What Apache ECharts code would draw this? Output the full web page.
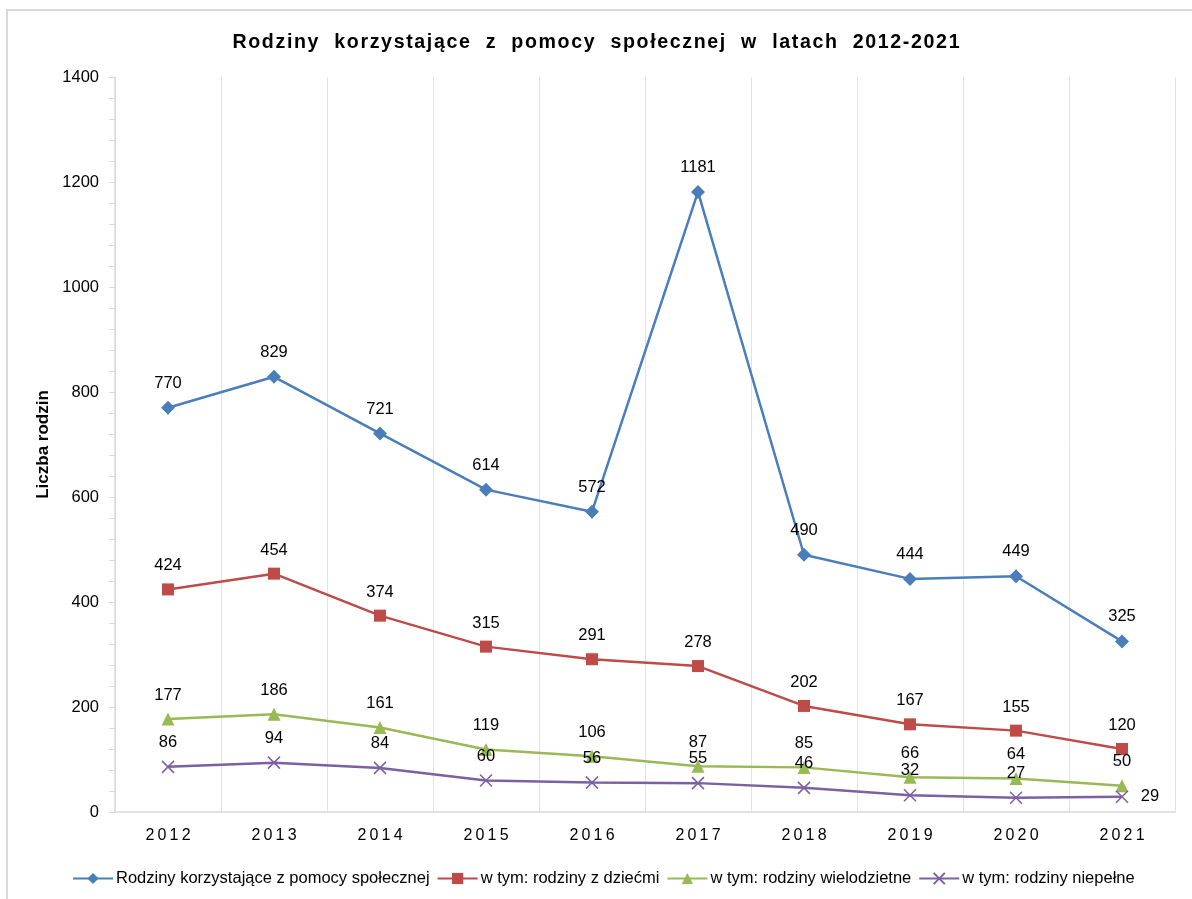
<!DOCTYPE html>
<html>
<head>
<meta charset="utf-8">
<script src="https://cdn.jsdelivr.net/npm/echarts@6/dist/echarts.min.js"></script>
<style>
  html, body { margin: 0; padding: 0; background: #fff; }
  #chart { width: 1192px; height: 899px; }
</style>
</head>
<body>
<div id="chart"></div>
<script>
const years = ['2012', '2013', '2014', '2015', '2016', '2017', '2018', '2019', '2020', '2021']
const seriesNames = [
  'Rodziny korzystające z pomocy społecznej',
  'w tym: rodziny z dziećmi',
  'w tym: rodziny wielodzietne',
  'w tym: rodziny niepełne'
]
const allFamilies = [770, 829, 721, 614, 572, 1181, 490, 444, 449, 325]
const withChildren = [424, 454, 374, 315, 291, 278, 202, 167, 155, 120]
const largeFamilies = [177, 186, 161, 119, 106, 87, 85, 66, 64, 50]
const singleParent = [86, 94, 84, 60, 56, 55, 46, 32, 27, 29]

const FONT = '"Liberation Sans", Arial, sans-serif'
const crossPath = 'path://M0,0L10,10M10,0L0,10'

// rozstrzelony tekst (jak w Excelu)
const spaced = (s, sep) => s.split('').join(sep)
const titleText = 'Rodziny  korzystające  z  pomocy  społecznej  w  latach  2012-2021'

const chart = echarts.init(document.getElementById('chart'), null, { renderer: 'canvas' })

const labelStyle = {
  show: true,
  position: 'top',
  distance: 9,
  color: '#000',
  fontSize: 16.5,
  fontFamily: FONT
}

function makeSeries(name, data, color, symbol, size, extra) {
  return Object.assign({
    name: name,
    type: 'line',
    data: data,
    symbol: symbol,
    symbolSize: size,
    showAllSymbol: true,
    lineStyle: { color: color, width: 2.5 },
    itemStyle: { color: color },
    label: labelStyle,
    z: 3
  }, extra || {})
}

// ostatni punkt serii "niepełne" ma etykietę z prawej strony
const singleParentData = singleParent.map((v, i) =>
  i === singleParent.length - 1 ? { value: v, label: { position: 'right', distance: 12 } } : v
)

const option = {
  backgroundColor: '#fff',
  animation: false,
  title: {
    text: spaced(titleText, '\u200A'),
    left: 'center',
    top: 28,
    textStyle: {
      fontFamily: FONT,
      fontSize: 19.6,
      fontWeight: 'bold',
      color: '#000'
    }
  },
  graphic: [{
    type: 'rect',
    shape: { x: 7, y: 10, width: 1200, height: 900 },
    style: { fill: 'none', stroke: '#d9d9d9', lineWidth: 2 },
    silent: true
  }],
  legend: {
    bottom: 7,
    left: 67,
    itemWidth: 40,
    itemHeight: 14,
    itemGap: 7,
    textStyle: { fontFamily: FONT, fontSize: 16.5, color: '#000', padding: [0, 0, 0, -2] },
    data: seriesNames
  },
  grid: {
    left: 115,
    right: 17,
    top: 77,
    bottom: 87
  },
  xAxis: {
    type: 'category',
    data: years,
    boundaryGap: true,
    axisLine: { lineStyle: { color: '#d9d9d9', width: 1.5 } },
    axisTick: { show: false },
    axisLabel: {
      margin: 16,
      color: '#000',
      fontSize: 16,
      fontFamily: FONT,
      formatter: v => spaced(v, '\u2009')
    },
    splitLine: { show: true, lineStyle: { color: '#e3e3e3', width: 1 } }
  },
  yAxis: {
    type: 'value',
    min: 0,
    max: 1400,
    interval: 200,
    name: 'Liczba rodzin',
    nameLocation: 'middle',
    nameGap: 62,
    nameTextStyle: { fontFamily: FONT, fontSize: 17, fontWeight: 'bold', color: '#000' },
    axisLine: { show: true, lineStyle: { color: '#d9d9d9', width: 1.5 } },
    axisTick: { show: true, inside: false, length: 6, lineStyle: { color: '#d9d9d9' } },
    minorTick: { show: true, splitNumber: 5, length: 6, lineStyle: { color: '#d9d9d9' } },
    axisLabel: { margin: 16, color: '#000', fontSize: 16.5, fontFamily: FONT, formatter: v => String(v) },
    splitLine: { show: false }
  },
  series: [
    makeSeries(seriesNames[0], allFamilies, '#4A7EBB', 'diamond', 14),
    makeSeries(seriesNames[1], withChildren, '#BE4B48', 'rect', 12),
    makeSeries(seriesNames[2], largeFamilies, '#98B954', 'triangle', 13),
    makeSeries(seriesNames[3], singleParentData, '#7D60A0', crossPath, 12, {
      itemStyle: { color: '#7D60A0', borderColor: '#7D60A0', borderWidth: 1.5 }
    })
  ]
}

chart.setOption(option)
</script>
</body>
</html>
